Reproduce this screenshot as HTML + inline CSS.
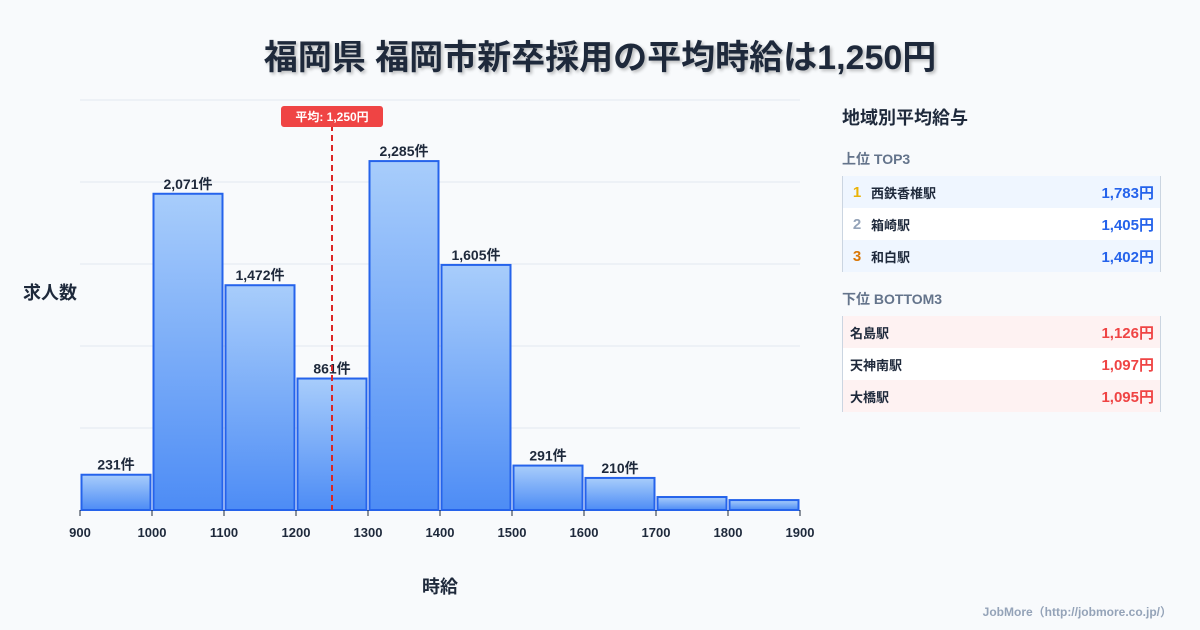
<!DOCTYPE html>
<html><head><meta charset="utf-8">
<style>
body{margin:0;width:1200px;height:630px;background:#f8fafc;font-family:"Liberation Sans","Noto Sans CJK JP",sans-serif;position:relative;overflow:hidden;color:#1e293b}
.abs{position:absolute}
#title{left:0;width:1200px;top:30px;text-align:center;font-size:34px;font-weight:700;color:#1e293b;text-shadow:2px 2px 3px rgba(0,0,0,0.25)}
.tbl{position:absolute;left:842px;width:317px;border-left:1px solid #cbd5e1;border-right:1px solid #cbd5e1}
.row{height:32px;display:flex;align-items:center;font-size:13px;font-weight:700;position:relative}
.row .v{position:absolute;right:6px;font-size:15px}
.rk{width:28px;text-align:center;font-size:15px}
</style></head><body>
<div id="title" class="abs">福岡県 福岡市新卒採用の平均時給は1,250円</div>
<svg class="abs" style="left:0;top:0" width="820" height="630">
<defs><linearGradient id="g" x1="0" y1="0" x2="0" y2="1"><stop offset="0" stop-color="#a8cdfb"/><stop offset="1" stop-color="#4d8cf5"/></linearGradient></defs>
<g id="grid"></g><g id="bars"></g><g id="ticks"></g>
<text x="50" y="299" text-anchor="middle" font-size="18" font-weight="700" fill="#1e293b">求人数</text>
<text x="440" y="593" text-anchor="middle" font-size="18" font-weight="700" fill="#1e293b">時給</text>
<g id="mean"></g>
</svg>
<div class="abs" style="left:842px;top:104px;font-size:18px;font-weight:700">地域別平均給与</div>
<div class="abs" style="left:842px;top:149px;font-size:14px;font-weight:700;color:#64748b">上位 TOP3</div>
<div class="tbl" style="top:176px">
<div class="row" style="background:#eff6ff"><span class="rk" style="color:#eab308">1</span>西鉄香椎駅<span class="v" style="color:#2563eb">1,783円</span></div>
<div class="row" style="background:#fff"><span class="rk" style="color:#94a3b8">2</span>箱崎駅<span class="v" style="color:#2563eb">1,405円</span></div>
<div class="row" style="background:#eff6ff"><span class="rk" style="color:#d97706">3</span>和白駅<span class="v" style="color:#2563eb">1,402円</span></div>
</div>
<div class="abs" style="left:842px;top:289px;font-size:14px;font-weight:700;color:#64748b">下位 BOTTOM3</div>
<div class="tbl" style="top:316px">
<div class="row" style="background:#fef2f2;padding-left:7px">名島駅<span class="v" style="color:#ef4444">1,126円</span></div>
<div class="row" style="background:#fff;padding-left:7px">天神南駅<span class="v" style="color:#ef4444">1,097円</span></div>
<div class="row" style="background:#fef2f2;padding-left:7px">大橋駅<span class="v" style="color:#ef4444">1,095円</span></div>
</div>
<div class="abs" style="right:28px;top:603px;font-size:12px;font-weight:700;color:#94a3b8">JobMore（http://jobmore.co.jp/）</div>
<script>
const binStarts=[900,1000,1100,1200,1300,1400,1500,1600,1700,1800];
const counts=[231,2071,1472,861,2285,1605,291,210,85,65];
const showLabel=[true,true,true,true,true,true,true,true,false,false];
const xTicks=[900,1000,1100,1200,1300,1400,1500,1600,1700,1800,1900];
const meanValue=1250;
const gridVals=[0,537,1074,1611,2148,2685];
const NS="http://www.w3.org/2000/svg";
const x=v=>80+(v-900)*0.72;
const y=v=>510-v*410/2685;
function mk(t,a,p){const e=document.createElementNS(NS,t);for(const k in a)e.setAttribute(k,a[k]);p.appendChild(e);return e;}
const G=document.getElementById('grid'),B=document.getElementById('bars'),T=document.getElementById('ticks'),M=document.getElementById('mean');
gridVals.forEach(g=>{const l=mk('line',{x1:80,x2:800,y1:y(g),y2:y(g),stroke:'#e2e8f0','stroke-width':1},G);

});
binStarts.forEach((s,i)=>{const x0=x(s)+1.5,x1=x(s+100)-1.5,yt=y(counts[i]);
const r=mk('rect',{x:x0,y:yt,width:x1-x0,height:510-yt,fill:'url(#g)',stroke:'#2563eb','stroke-width':2},B);


if(showLabel[i]){const t=mk('text',{x:(x0+x1)/2,y:yt-5,'text-anchor':'middle','font-size':14,'font-weight':700,fill:'#1e293b'},B);t.textContent=counts[i].toLocaleString('en-US')+'件';

}});
xTicks.forEach(v=>{mk('line',{x1:x(v),x2:x(v),y1:510,y2:516,stroke:'#1e293b'},T);
const t=mk('text',{x:x(v),y:537,'text-anchor':'middle','font-size':13,'font-weight':700,fill:'#1e293b'},T);t.textContent=v;

});
const mx=x(meanValue);
const ml=mk('line',{x1:mx,x2:mx,y1:125,y2:510,stroke:'#dc2626','stroke-width':2,'stroke-dasharray':'6,4'},M);


const mb=mk('rect',{x:mx-51,y:106,width:102,height:21,rx:3,fill:'#ef4444'},M);


const mt=mk('text',{x:mx,y:121,'text-anchor':'middle','font-size':12,'font-weight':700,fill:'#fff'},M);
mt.textContent='平均: '+meanValue.toLocaleString('en-US')+'円';


</script>
</body></html>
